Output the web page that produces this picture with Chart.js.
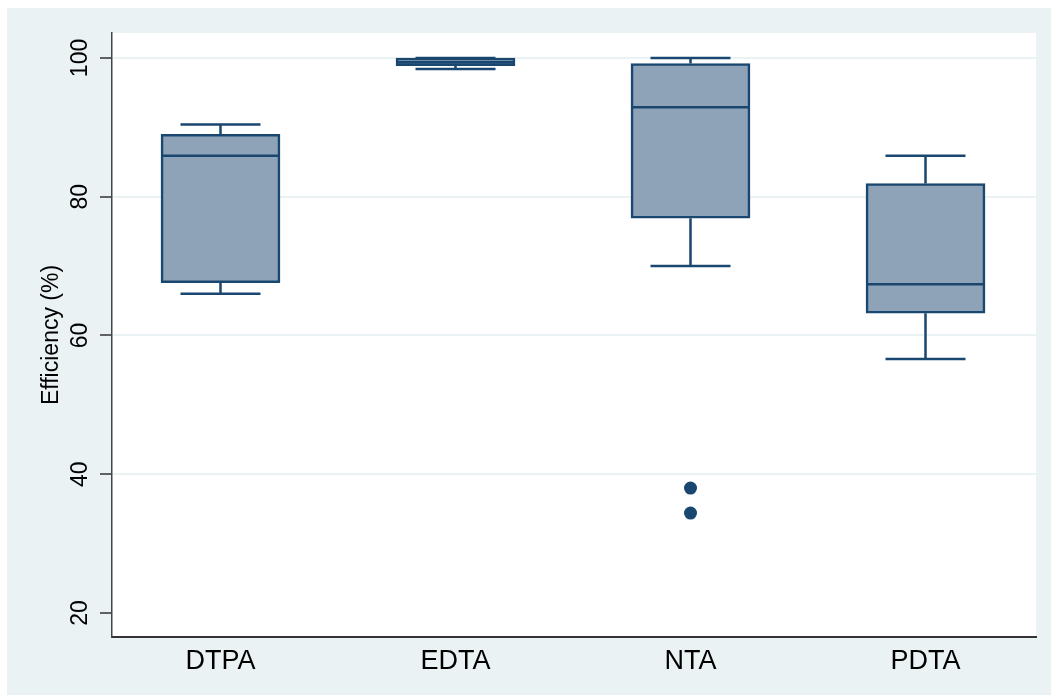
<!DOCTYPE html>
<html>
<head>
<meta charset="utf-8">
<script src="https://cdn.jsdelivr.net/npm/chart.js@4.4.1/dist/chart.umd.min.js"></script>
<style>
  html, body { margin: 0; padding: 0; background: #ffffff; }
  #wrap { width: 1051px; height: 695px; }
</style>
</head>
<body>
<div id="wrap"><canvas id="chart" width="1051" height="695"></canvas></div>
<script>
// Chelating agent efficiency (%) — box plot summary per agent
const categories   = ['DTPA', 'EDTA', 'NTA', 'PDTA'];
const lowerWhisker = [66.0, 98.4, 70.0, 56.6];
const quartile1    = [67.6, 98.9, 76.9, 63.2];
const medians      = [85.9, 99.4, 92.9, 67.4];
const quartile3    = [89.0, 100.0, 99.2, 81.9];
const upperWhisker = [90.4, 100.0, 100.0, 85.9];
const outlierGroup = [2, 2];
const outlierValue = [38.0, 34.4];
const yTickValues  = [20, 40, 60, 80, 100];

const NAVY = '#1a476f';
const BOX_FILL = '#8ea3b8';
const PANEL = '#eaf2f3';
const FONT = 'Liberation Sans, sans-serif';

const boxData = categories.map((c, i) => ({ x: i, y: [quartile1[i], quartile3[i]] }));
const outlierData = outlierGroup.map((g, i) => ({ x: g, y: outlierValue[i] }));

// Panel backgrounds: outer tinted panel and white plot region
const backgroundPlugin = {
  id: 'panelBackground',
  beforeDraw(chart) {
    const { ctx, chartArea: a, width, height } = chart;
    ctx.save();
    ctx.fillStyle = '#ffffff';
    ctx.fillRect(0, 0, width, height);
    ctx.fillStyle = PANEL;
    ctx.fillRect(7, 8, width - 7, height - 8);
    ctx.fillStyle = '#ffffff';
    ctx.fillRect(a.left, a.top, a.right - a.left, a.bottom - a.top);
    ctx.restore();
  }
};

// Whiskers, caps and median lines drawn through the chart scales
const boxPlotPlugin = {
  id: 'boxWhiskers',
  beforeDatasetsDraw(chart, args, opts) {
    const { ctx, scales: { x, y } } = chart;
    ctx.save();
    ctx.strokeStyle = NAVY;
    ctx.lineWidth = opts.lineWidth;
    ctx.lineCap = 'butt';
    categories.forEach((c, i) => {
      const cx = x.getPixelForValue(i);
      const half = opts.capWidth / 2;
      const segs = [
        [quartile3[i], upperWhisker[i]],
        [quartile1[i], lowerWhisker[i]]
      ];
      segs.forEach(([from, to]) => {
        const y0 = y.getPixelForValue(from);
        const y1 = y.getPixelForValue(to);
        ctx.beginPath();
        ctx.moveTo(cx, y0);
        ctx.lineTo(cx, y1);
        ctx.moveTo(cx - half, y1);
        ctx.lineTo(cx + half, y1);
        ctx.stroke();
      });
    });
    ctx.restore();
  },
  afterDatasetsDraw(chart, args, opts) {
    const { ctx, scales: { x, y } } = chart;
    ctx.save();
    ctx.strokeStyle = NAVY;
    ctx.lineWidth = opts.medianWidth;
    categories.forEach((c, i) => {
      const cx = x.getPixelForValue(i);
      const half = opts.boxWidth / 2;
      const my = y.getPixelForValue(medians[i]);
      ctx.beginPath();
      ctx.moveTo(cx - half, my);
      ctx.lineTo(cx + half, my);
      ctx.stroke();
    });
    ctx.restore();
  }
};

new Chart(document.getElementById('chart'), {
  data: {
    datasets: [
      {
        type: 'bar',
        data: boxData,
        backgroundColor: BOX_FILL,
        borderColor: NAVY,
        borderWidth: 2.6,
        borderSkipped: false,
        barThickness: 119,
        order: 2
      },
      {
        type: 'scatter',
        data: outlierData,
        backgroundColor: NAVY,
        borderColor: NAVY,
        pointRadius: 6.5,
        borderWidth: 0,
        order: 1
      }
    ]
  },
  options: {
    responsive: false,
    animation: false,
    devicePixelRatio: 1,
    layout: { padding: { left: 0, top: 33, right: 15, bottom: 0 } },
    plugins: {
      legend: { display: false },
      tooltip: { enabled: false },
      boxWhiskers: { lineWidth: 2.5, medianWidth: 2.5, capWidth: 80, boxWidth: 119 }
    },
    scales: {
      x: {
        type: 'linear',
        offset: false,
        min: -0.4617,
        max: 3.4702,
        afterBuildTicks(scale) { scale.ticks = categories.map((c, i) => ({ value: i })); },
        afterFit(scale) { scale.height = 58; },
        ticks: {
          callback: (v) => categories[v],
          font: { family: FONT, size: 27 },
          color: '#000000',
          padding: 8,
          maxRotation: 0,
          autoSkip: false
        },
        grid: { display: false, drawTicks: false, offset: false },
        border: { display: true, color: '#333333', width: 2 }
      },
      y: {
        type: 'linear',
        min: 16.54,
        max: 103.6,
        afterBuildTicks(scale) { scale.ticks = yTickValues.map(v => ({ value: v })); },
        afterFit(scale) { scale.width = 112; },
        ticks: {
          font: { family: FONT, size: 23 },
          color: '#000000',
          minRotation: 90,
          maxRotation: 90,
          crossAlign: 'center',
          padding: 0,
          autoSkip: false
        },
        grid: {
          color: (ctx) => (ctx.tick && ctx.tick.value === 20) ? 'rgba(0,0,0,0)' : PANEL,
          lineWidth: 2,
          drawTicks: true,
          tickLength: 12,
          tickColor: '#333333',
          tickWidth: 1.5
        },
        border: { display: true, color: '#444444', width: 1.5 },
        title: {
          display: true,
          text: 'Efficiency (%)',
          font: { family: FONT, size: 23 },
          color: '#000000',
          padding: { top: 38, bottom: 0 }
        }
      }
    }
  },
  plugins: [backgroundPlugin, boxPlotPlugin]
});
</script>
</body>
</html>
